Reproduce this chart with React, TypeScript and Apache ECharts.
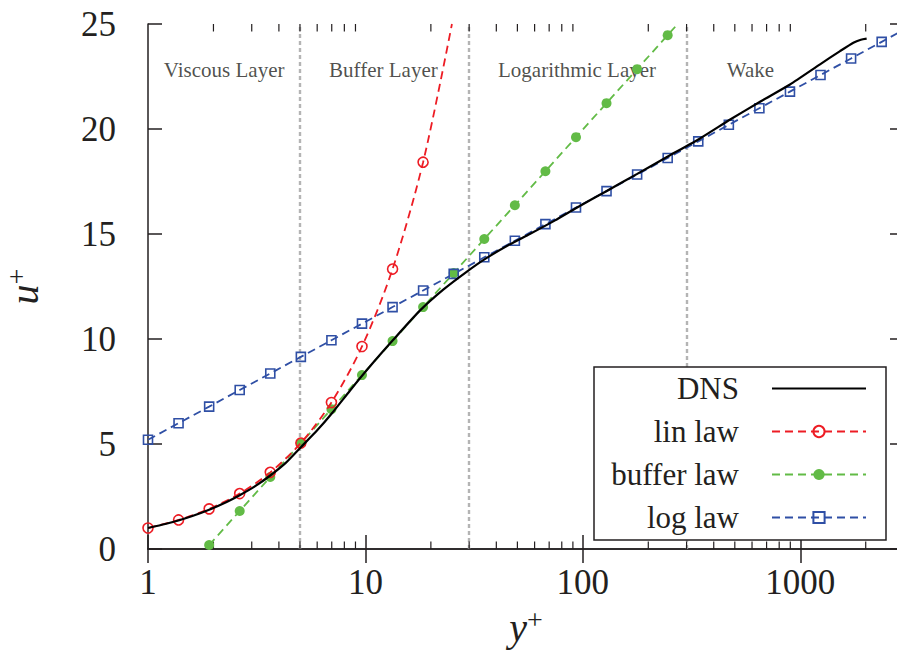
import React, { useEffect, useRef } from "react";
import * as echarts from "echarts";

const FONT = "'Liberation Serif', 'DejaVu Serif', serif";
const TXT = "#231f20";

// DNS profile
const dnsX = [1, 1.2, 1.38, 1.6, 1.91, 2.3, 2.64, 3.1, 3.65, 4.3, 5.05, 6.0, 7.0, 8.5, 10.5, 13.4, 17.8, 22.8, 29.2, 36, 46, 57, 74.5, 93.7, 128.8, 177, 247, 346, 476, 653, 897, 1233, 1524, 1755, 1900, 2020];
const dnsU = [1.0, 1.19, 1.36, 1.57, 1.87, 2.24, 2.56, 2.98, 3.5, 4.1, 4.85, 5.65, 6.45, 7.55, 8.7, 9.95, 11.35, 12.35, 13.2, 13.85, 14.5, 15.0, 15.65, 16.25, 17.05, 17.85, 18.7, 19.55, 20.45, 21.3, 22.12, 23.08, 23.71, 24.11, 24.25, 24.3];

// lin law (markers, last point is the line's end)
const linX = [1, 1.382, 1.911, 2.641, 3.651, 5.047, 6.976, 9.643, 13.33, 18.42, 25];
const linU = [1, 1.382, 1.911, 2.641, 3.651, 5.047, 6.976, 9.643, 13.33, 18.42, 25];

// buffer law
const bufX = [1.911, 2.641, 3.651, 5.047, 6.976, 9.643, 13.33, 18.42, 25.47, 35.21, 48.67, 67.28, 93.0, 128.5, 177.7, 245.6, 273];
const bufU = [0.19, 1.81, 3.43, 5.04, 6.66, 8.28, 9.9, 11.52, 13.14, 14.76, 16.37, 17.99, 19.61, 21.23, 22.85, 24.47, 25];

// log law
const logX = [1, 1.382, 1.911, 2.641, 3.651, 5.047, 6.976, 9.643, 13.33, 18.42, 25.47, 35.21, 48.67, 67.28, 93.0, 128.5, 177.7, 245.6, 339.5, 469.3, 648.6, 896.6, 1239, 1713, 2368, 3000];
const logU = [5.2, 5.99, 6.78, 7.57, 8.36, 9.15, 9.94, 10.73, 11.52, 12.31, 13.1, 13.89, 14.68, 15.47, 16.26, 17.04, 17.83, 18.62, 19.41, 20.2, 20.99, 21.78, 22.57, 23.36, 24.15, 24.73];

// region boundaries and labels
const regionBounds = [5, 30, 300];
const regionNames = ["Viscous Layer", "Buffer Layer", "Logarithmic Layer", "Wake"];
const regionX = [2.24, 12.1, 94, 590];
const regionY = [22.8, 22.8, 22.8, 22.8];

// axes
const xMin = 1;
const xMax = 3000;
const yMin = 0;
const yMax = 25;
const yStep = 5;
const minorTicks = [2, 3, 4, 5, 6, 7, 8, 9, 20, 30, 40, 50, 60, 70, 80, 90, 200, 300, 400, 500, 600, 700, 800, 900, 2000];

const RED = "#ed1c24";
const GREEN = "#62bb46";
const BLUE = "#2f4fa5";
const AXIS = "#231f20";

function markerData(xs: number[], ys: number[], lastPlain: boolean) {
  return xs.map((x, i) =>
    lastPlain && i === xs.length - 1 ? { value: [x, ys[i]], symbol: "none" } : { value: [x, ys[i]] }
  );
}

export default function App() {
  const ref = useRef<HTMLDivElement>(null);
  useEffect(() => {
    if (!ref.current) return;
    const chart = echarts.init(ref.current, null, { renderer: "svg" });
    const axisLineStyle = { color: AXIS, width: 1.5 };
    const nameRich = {
      i: { fontFamily: FONT, fontStyle: "italic", fontSize: 40, color: TXT, lineHeight: 44 },
      s: { fontFamily: FONT, fontSize: 28, color: TXT, verticalAlign: "top", lineHeight: 44 },
    };
    const option: any = {
      animation: false,
      backgroundColor: "#fff",
      grid: { left: 148, right: -7, top: 24, bottom: 103, containLabel: false, outerBoundsMode: "none" },
      xAxis: [
        {
          type: "log",
          logBase: 10,
          min: xMin,
          max: xMax,
          name: "{i|y}{s|+}",
          nameLocation: "middle",
          nameGap: 56,
          nameTextStyle: { rich: nameRich },
          axisLine: { show: true, lineStyle: axisLineStyle },
          axisTick: { show: true, inside: true, length: 14, lineStyle: axisLineStyle },
          axisLabel: {
            show: true,
            margin: 16,
            fontFamily: FONT,
            fontSize: 35,
            color: TXT,
            showMaxLabel: false,
            formatter: (v: number) => String(Math.round(v)),
          },
          splitLine: { show: false },
        },
        {
          type: "log",
          logBase: 10,
          min: xMin,
          max: xMax,
          position: "top",
          axisLine: { show: true, lineStyle: axisLineStyle },
          axisTick: { show: true, inside: true, length: 14, lineStyle: axisLineStyle },
          axisLabel: { show: false },
          splitLine: { show: false },
        },
      ],
      yAxis: [
        {
          type: "value",
          min: yMin,
          max: yMax,
          interval: yStep,
          name: "{i|u}{s|+}",
          nameLocation: "middle",
          nameGap: 102,
          nameTextStyle: { rich: nameRich },
          axisLine: { show: true, onZero: false, lineStyle: axisLineStyle },
          axisTick: { show: true, inside: true, length: 14, lineStyle: axisLineStyle },
          axisLabel: { show: true, margin: 32, fontFamily: FONT, fontSize: 35, color: TXT },
          splitLine: { show: false },
        },
        {
          type: "value",
          min: yMin,
          max: yMax,
          interval: yStep,
          position: "right",
          axisLine: { show: true, onZero: false, lineStyle: axisLineStyle },
          axisTick: { show: true, inside: true, length: 14, lineStyle: axisLineStyle },
          axisLabel: { show: false },
          splitLine: { show: false },
        },
      ],
      legend: {
        orient: "vertical",
        left: 594,
        top: 367,
        align: "right",
        itemWidth: 94,
        itemHeight: 14,
        itemGap: 12,
        padding: [6, 19, 7, 17],
        borderColor: AXIS,
        borderWidth: 1.5,
        backgroundColor: "#fff",
        data: ["DNS", "lin law", "buffer law", "log law"],
        formatter: (name: string) => `{t|${name}}`,
        textStyle: {
          fontFamily: FONT,
          fontSize: 31,
          color: TXT,
          rich: {
            t: { fontFamily: FONT, fontSize: 31, color: TXT, width: 128, align: "right", padding: [0, 28, 0, 0], lineHeight: 30 },
          },
        },
      },
      series: [
        {
          type: "custom",
          silent: true,
          xAxisIndex: 0,
          yAxisIndex: 0,
          data: minorTicks.map((v) => [v, 0]),
          encode: { x: 0, y: 1 },
          renderItem: (params: any, api: any) => {
            const v = api.value(0);
            const b = api.coord([v, yMin]);
            const t = api.coord([v, yMax]);
            const st = { stroke: AXIS, lineWidth: 1.2 };
            return {
              type: "group",
              children: [
                { type: "line", shape: { x1: b[0], y1: b[1], x2: b[0], y2: b[1] - 7.5 }, style: st },
                { type: "line", shape: { x1: t[0], y1: t[1], x2: t[0], y2: t[1] + 7.5 }, style: st },
              ],
            };
          },
          z: 1,
        },
        {
          type: "scatter",
          silent: true,
          symbolSize: 0,
          data: regionX.map((x, i) => ({ value: [x, regionY[i]], name: regionNames[i] })),
          label: {
            show: true,
            position: "inside",
            formatter: (p: any) => p.name,
            fontFamily: FONT,
            fontSize: 21,
            color: TXT,
          },
          z: 1,
        },
        {
          name: "DNS",
          type: "line",
          data: dnsX.map((x, i) => [x, dnsU[i]]),
          smooth: 0.2,
          showSymbol: false,
          symbol: "none",
          lineStyle: { color: "#000", width: 2.2 },
          itemStyle: { color: "rgba(0,0,0,0)", borderWidth: 0, opacity: 0 },
          z: 5,
          markLine: {
            silent: true,
            symbol: ["none", "none"],
            label: { show: false },
            lineStyle: { color: "#b4b4b4", type: [4, 3], width: 2.4, opacity: 1 },
            data: regionBounds.map((b) => ({ xAxis: b })),
            z: 1,
          },
        },
        {
          name: "lin law",
          type: "line",
          data: markerData(linX, linU, true),
          smooth: 0.3,
          symbol: "circle",
          symbolSize: 10,
          lineStyle: { color: RED, width: 1.8, type: [8, 5] },
          itemStyle: { color: "rgba(255,255,255,0)", borderColor: RED, borderWidth: 1.6 },
          z: 4,
        },
        {
          name: "buffer law",
          type: "line",
          data: markerData(bufX, bufU, true),
          symbol: "circle",
          symbolSize: 10,
          lineStyle: { color: GREEN, width: 1.8, type: [8, 5] },
          itemStyle: { color: GREEN, borderColor: GREEN, borderWidth: 0 },
          z: 3,
        },
        {
          name: "log law",
          type: "line",
          data: markerData(logX, logU, true),
          symbol: "rect",
          symbolSize: 9,
          lineStyle: { color: BLUE, width: 1.8, type: [8, 5] },
          itemStyle: { color: "rgba(255,255,255,0)", borderColor: BLUE, borderWidth: 1.6 },
          z: 3,
        },
      ],
    };
    chart.setOption(option);
    return () => chart.dispose();
  }, []);
  return (
    <div
      ref={ref}
      style={{ position: "fixed", left: 0, top: 0, width: 897, height: 652, background: "#fff" }}
    />
  );
}
